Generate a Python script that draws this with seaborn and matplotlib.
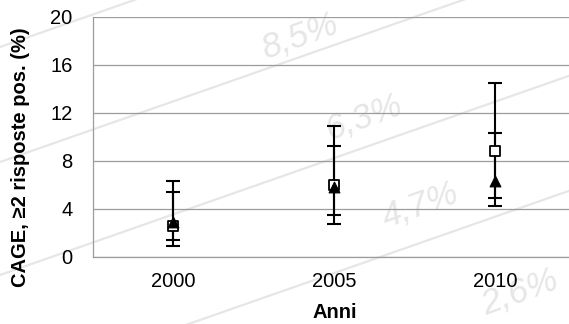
import matplotlib
matplotlib.use("Agg")
import matplotlib.pyplot as plt
from matplotlib.lines import Line2D
from matplotlib.ticker import FixedLocator
import seaborn as sns
import pandas as pd

# ---- data ----
anni = ["2000", "2005", "2010"]
quadrato = [2.6, 6.0, 8.8]          # open squares
quadrato_lo = [0.9, 2.7, 4.9]
quadrato_hi = [6.3, 10.9, 14.5]
triangolo = [2.9, 5.8, 6.3]         # filled triangles
triangolo_lo = [1.4, 3.5, 4.2]
triangolo_hi = [5.4, 9.2, 10.3]
y_ticks = [0, 4, 8, 12, 16, 20]
watermark = ["8,5%", "6,3%", "4,7%", "2,6%"]

sns.set_theme(style="white")
plt.rcParams["font.family"] = ["Liberation Sans", "DejaVu Sans"]

W, H, DPI = 569, 324, 100
fig = plt.figure(figsize=(W / DPI, H / DPI), dpi=DPI)
fig.patch.set_facecolor("white")

# axes placement (pixel based)
left, right, top, bottom = 92.7, 576.0, 16.7, 256.7
ax = fig.add_axes([left / W, 1 - bottom / H, (right - left) / W, (bottom - top) / H])
ax.set_facecolor("none")

# ---- faint watermark in background ----
wm_col = "#e6e6e6"
for c in [47, 162, 275, 390]:
    xs = [0, W]
    ys = [c, c - 0.35 * W]
    fig.add_artist(Line2D([x / W for x in xs], [1 - y / H for y in ys],
                          transform=fig.transFigure, color=wm_col, lw=1.6, zorder=-5))
wm_pos = [(300, 36), (363, 117), (420, 205), (520, 292)]
for t, (px, py) in zip(watermark, wm_pos):
    fig.text(px / W, 1 - py / H, t, rotation=20, fontsize=25, color=wm_col,
             ha="center", va="center", zorder=-5, style="italic")

# ---- data marks ----
df_q = pd.DataFrame({"anno": anni, "val": quadrato})
df_t = pd.DataFrame({"anno": anni, "val": triangolo})

ax.errorbar(anni, quadrato,
            yerr=[[v - l for v, l in zip(quadrato, quadrato_lo)],
                  [h - v for v, h in zip(quadrato, quadrato_hi)]],
            fmt="none", ecolor="black", elinewidth=1.5, capsize=5, capthick=1.5, zorder=2)
ax.errorbar(anni, triangolo,
            yerr=[[v - l for v, l in zip(triangolo, triangolo_lo)],
                  [h - v for v, h in zip(triangolo, triangolo_hi)]],
            fmt="none", ecolor="black", elinewidth=1.5, capsize=5, capthick=1.5, zorder=2)

sns.scatterplot(data=df_q, x="anno", y="val", marker="s", s=50, color="white",
                edgecolor="black", linewidth=1.3, zorder=4, ax=ax, legend=False)
sns.scatterplot(data=df_t, x="anno", y="val", marker="^", s=60, color="black",
                edgecolor="black", linewidth=0.8, zorder=5, ax=ax, legend=False)

# ---- axes styling ----
grid_col = "#9c9c9c"
ax.set_xlim(-0.5, 2.5)
ax.set_ylim(0, 20)
ax.set_yticks(y_ticks)
ax.set_yticklabels([str(v) for v in y_ticks])
ax.yaxis.grid(True, color=grid_col, lw=0.9)
ax.xaxis.grid(False)
ax.set_axisbelow(True)

for s in ["top", "right"]:
    ax.spines[s].set_visible(False)
for s in ["left", "bottom"]:
    ax.spines[s].set_color(grid_col)
    ax.spines[s].set_linewidth(0.9)

ax.xaxis.set_minor_locator(FixedLocator([-0.5, 0.5, 1.5, 2.5]))
ax.tick_params(axis="x", which="major", length=0, pad=11, labelsize=14.5, labelcolor="black")
ax.tick_params(axis="x", which="minor", length=4.5, width=0.9, color=grid_col, direction="out")
ax.tick_params(axis="y", which="major", length=4.5, width=0.9, color=grid_col,
               direction="out", pad=10, labelsize=14.5, labelcolor="black")

ax.set_xlabel("Anni", fontsize=14.5, fontweight="bold", color="black")
ax.set_ylabel("CAGE, ≥2 risposte pos. (%)", fontsize=14.5, fontweight="bold", color="black")
ax.xaxis.set_label_coords(0.5, -0.193)
ax.yaxis.set_label_coords(-0.15, 0.415)
ax.yaxis.label.set_va("center")
ax.yaxis.label.set_ha("center")

fig.savefig("out.png", dpi=DPI, facecolor="white")
